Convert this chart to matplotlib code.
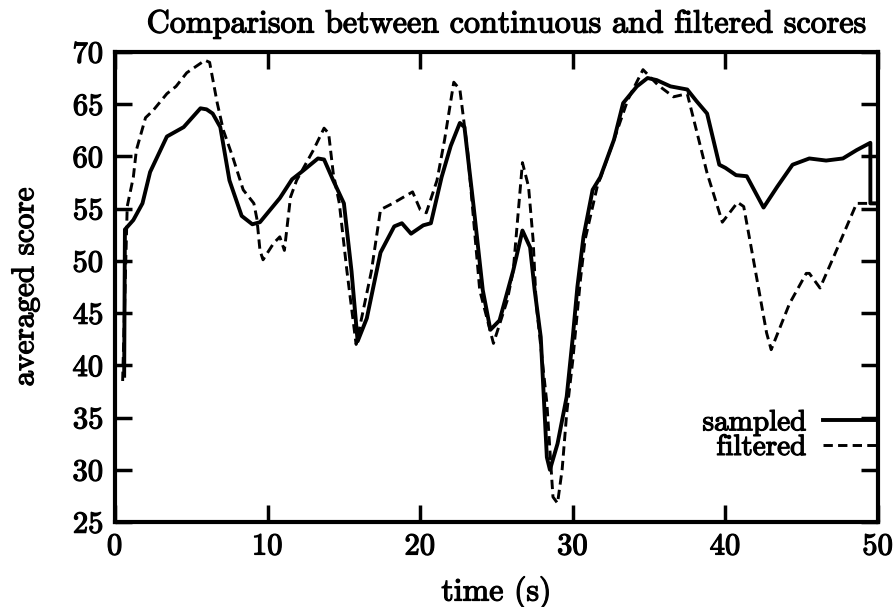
#!/usr/bin/env python3
"""Comparison between continuous and filtered scores."""

import matplotlib

matplotlib.use("Agg")
import matplotlib.pyplot as plt
import matplotlib.patheffects as pe

# sampled (continuous) score
sampled_t = [0.6, 0.65, 1.2, 1.8, 2.3, 3.4, 4.5, 5.6, 6.0, 6.4, 6.9, 7.5, 8.3,
             9.0, 9.5, 10.8, 11.6, 12.3, 13.3, 13.7, 14.3, 15.0, 15.5, 15.9,
             16.5, 17.4, 18.3, 18.8, 19.4, 20.2, 20.7, 21.4, 22.0, 22.6, 22.9,
             23.5, 24.1, 24.6, 25.2, 26.1, 26.7, 27.2, 27.5, 27.9, 28.3, 28.5,
             29.0, 29.6, 30.0, 30.3, 30.7, 31.3, 31.8, 32.7, 33.3, 34.2, 34.9,
             35.5, 36.4, 37.5, 38.1, 38.8, 39.6, 40.0, 40.7, 41.4, 42.5, 43.4,
             44.4, 45.5, 46.6, 47.7, 48.6, 49.5, 49.5, 49.9]
sampled = [39.0, 53.0, 53.9, 55.5, 58.5, 61.9, 62.8, 64.6, 64.5, 64.1, 62.8,
           57.7, 54.3, 53.5, 53.7, 56.0, 57.8, 58.6, 59.8, 59.7, 57.7, 55.5,
           49.0, 42.3, 44.5, 50.8, 53.3, 53.6, 52.6, 53.4, 53.6, 58.0, 61.0,
           63.2, 62.8, 55.2, 47.2, 43.4, 44.3, 49.1, 52.9, 51.3, 47.2, 42.7,
           31.2, 30.0, 32.5, 37.0, 42.7, 47.5, 52.3, 56.8, 58.0, 61.6, 65.1,
           66.7, 67.5, 67.3, 66.7, 66.4, 65.3, 64.1, 59.2, 58.9, 58.2, 58.1,
           55.1, 57.1, 59.2, 59.8, 59.6, 59.8, 60.6, 61.3, 55.5, 55.5]

# filtered score
filtered_t = [0.5, 0.8, 1.2, 1.4, 2.0, 2.5, 3.4, 4.0, 4.7, 5.3, 5.9, 6.2, 6.7,
              7.1, 7.7, 8.4, 9.1, 9.3, 9.5, 9.7, 10.4, 10.8, 11.1, 11.5, 11.9,
              13.0, 13.7, 14.0, 14.3, 14.7, 15.2, 15.8, 16.8, 17.4, 18.2, 19.5,
              20.0, 20.4, 21.1, 21.6, 22.2, 22.6, 23.1, 23.9, 24.8, 25.7, 26.1,
              26.7, 27.1, 27.4, 27.6, 28.3, 28.7, 29.0, 29.3, 29.6, 30.0, 30.5,
              30.8, 31.6, 32.7, 33.6, 34.6, 35.6, 36.6, 37.5, 38.1, 38.8, 39.8,
              40.8, 41.2, 41.8, 42.7, 43.0, 44.2, 45.3, 45.5, 46.2, 47.1, 48.6,
              49.5, 49.9]
filtered = [38.5, 55.2, 58.0, 60.6, 63.7, 64.4, 66.0, 66.7, 68.0, 68.6, 69.2,
            69.0, 65.1, 62.5, 60.0, 56.8, 55.5, 54.0, 51.0, 50.1, 51.7, 52.3,
            51.0, 56.1, 57.7, 60.6, 62.7, 62.2, 58.4, 55.5, 49.0, 42.0, 49.0,
            54.9, 55.5, 56.6, 54.9, 54.6, 57.7, 61.6, 67.1, 66.4, 60.6, 47.2,
            42.1, 46.2, 49.1, 59.4, 57.1, 52.0, 45.9, 36.4, 27.4, 26.8, 30.0,
            35.4, 40.5, 48.2, 52.0, 57.1, 61.6, 65.4, 68.3, 66.8, 65.7, 66.0,
            62.5, 58.4, 53.7, 55.6, 55.2, 50.4, 43.1, 41.5, 45.9, 48.8, 48.8,
            47.4, 50.4, 55.5, 55.5, 55.5]

x_ticks = [0, 10, 20, 30, 40, 50]
y_ticks = [25, 30, 35, 40, 45, 50, 55, 60, 65, 70]


def main() -> None:
    plt.rcParams["font.family"] = ["cmr10", "DejaVu Serif"]
    plt.rcParams["axes.formatter.use_mathtext"] = True
    # scanned print look: slightly heavier strokes on all text
    bold = [pe.withStroke(linewidth=0.9, foreground="black")]

    fig = plt.figure(figsize=(8.95, 6.07), dpi=100)
    ax = fig.add_axes([0.1285, 0.140, 0.8525, 0.7745])

    ax.plot(sampled_t, sampled, color="black", lw=2.8, label="sampled")
    ax.plot(filtered_t, filtered, color="black", lw=2.1, ls=(0, (3.2, 1.8)),
            label="filtered")

    ax.set_xlim(0, 50)
    ax.set_ylim(25, 70)
    ax.set_xticks(x_ticks)
    ax.set_yticks(y_ticks)
    ax.tick_params(direction="in", length=12, width=2.5, top=True, right=True,
                   labelsize=22, pad=8)
    for spine in ax.spines.values():
        spine.set_linewidth(3)

    title = ax.set_title("Comparison between continuous and filtered scores",
                         fontsize=23.1, pad=14, x=0.513)
    xlab = ax.set_xlabel("time (s)", fontsize=23, labelpad=12)
    ylab = ax.set_ylabel("averaged score", fontsize=22.5, labelpad=24)

    leg = ax.legend(loc="lower right", bbox_to_anchor=(1.0, 0.13),
                    frameon=False, markerfirst=False, fontsize=21,
                    handlelength=1.9, handletextpad=0.55, labelspacing=-0.06,
                    borderaxespad=0.0, borderpad=0.0)

    texts = [title, xlab, ylab] + leg.get_texts()
    texts += ax.get_xticklabels() + ax.get_yticklabels()
    for t in texts:
        t.set_path_effects(bold)

    fig.savefig("out.png", dpi=100)
    plt.close(fig)


if __name__ == "__main__":
    main()
